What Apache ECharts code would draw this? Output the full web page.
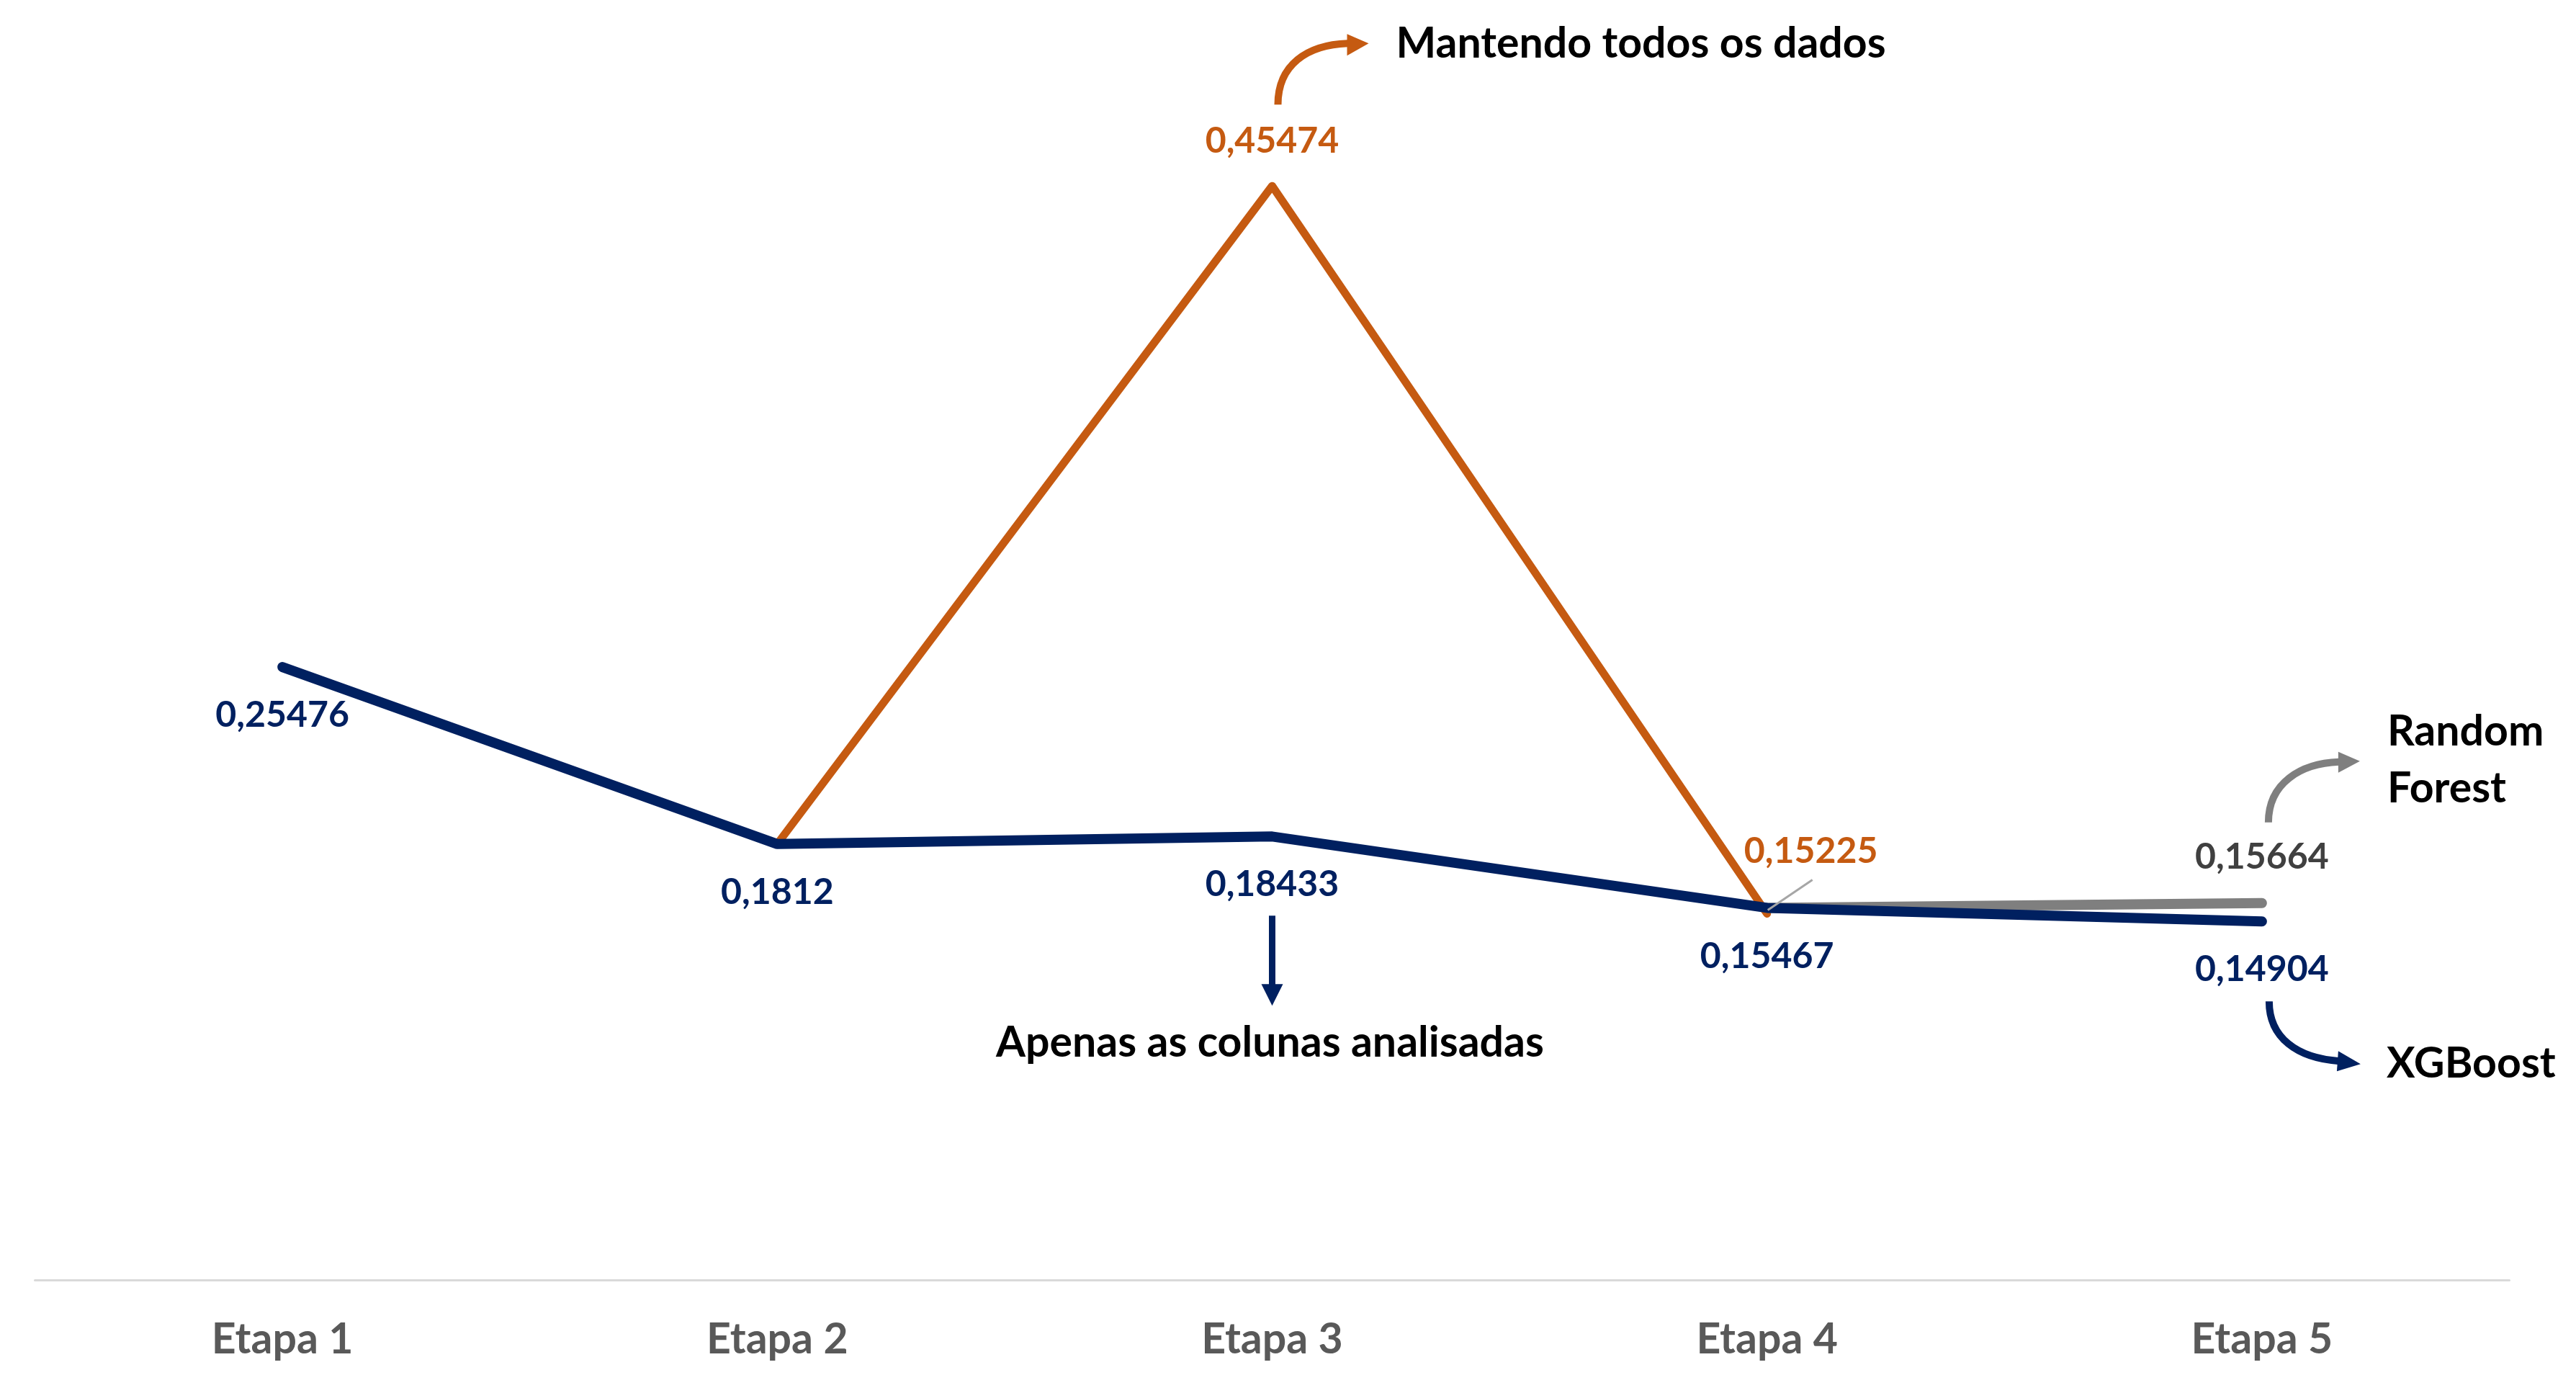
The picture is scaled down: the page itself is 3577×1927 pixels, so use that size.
<!DOCTYPE html>
<html>
<head>
<meta charset="utf-8">
<script src="https://cdn.jsdelivr.net/npm/echarts@6/dist/echarts.min.js"></script>
<style>
  html, body { margin: 0; padding: 0; background: #ffffff; }
  #chart { width: 3577px; height: 1927px; }
</style>
</head>
<body>
<div id="chart"></div>
<script>
// ---- Data ----
const categories = ['Etapa 1', 'Etapa 2', 'Etapa 3', 'Etapa 4', 'Etapa 5'];
const xgboostValues = [0.25476, 0.1812, 0.18433, 0.15467, 0.14904];      // Apenas as colunas analisadas
const allDataValues = [null, 0.1812, 0.45474, 0.15225, null];            // Mantendo todos os dados
const randomForestValues = [null, null, null, 0.15467, 0.15664];         // Random Forest branch
const annotationTexts = {
  top: 'Mantendo todos os dados',
  bottom: 'Apenas as colunas analisadas',
  rf: 'Random\nForest',
  xgb: 'XGBoost'
};

const NAVY = '#002060', ORANGE = '#C55A11', GRAY = '#7F7F7F';
const FONT = 'Lato, "Open Sans", "Noto Sans", sans-serif';

function fmt(v) { return String(v).replace('.', ','); }

const chart = echarts.init(document.getElementById('chart'), null, { renderer: 'canvas' });

const labelBase = { show: true, position: 'inside', fontFamily: FONT, fontWeight: 'bold', fontSize: 50,
  formatter: p => fmt(p.value) };

function mk(values, color, shownIdx, offsets) {
  return values.map((v, i) => {
    if (v === null) return null;
    const show = shownIdx.indexOf(i) >= 0;
    return { value: v, label: show ? { show: true, offset: offsets[i] } : { show: false } };
  });
}

const option = {
  backgroundColor: '#ffffff',
  animation: false,
  grid: { left: 48.5, right: 92.5, top: 107, bottom: 150, containLabel: false },
  xAxis: {
    type: 'category',
    data: categories,
    boundaryGap: true,
    axisLine: { show: true, lineStyle: { color: '#D9D9D9', width: 3 } },
    axisTick: { show: false },
    axisLabel: { color: '#595959', fontFamily: FONT, fontWeight: 'bold', fontSize: 59, margin: 53 },
    splitLine: { show: false }
  },
  yAxis: {
    type: 'value', min: 0, max: 0.5, interval: 0.1,
    show: false, splitLine: { show: false }
  },
  series: [
    {
      name: 'Mantendo todos os dados', type: 'line', z: 2,
      data: mk(allDataValues, ORANGE, [2, 3], { 2: [0, -62], 3: [61, -87] }),
      connectNulls: false,
      symbol: 'circle', symbolSize: 2, showSymbol: true,
      itemStyle: { color: ORANGE },
      lineStyle: { color: ORANGE, width: 11, cap: 'round', join: 'round' },
      label: Object.assign({}, labelBase, { color: ORANGE })
    },
    {
      name: 'Random Forest', type: 'line', z: 3,
      data: mk(randomForestValues, GRAY, [4], { 4: [0, -64] }),
      symbol: 'circle', symbolSize: 2, showSymbol: true,
      itemStyle: { color: GRAY },
      lineStyle: { color: GRAY, width: 14, cap: 'round', join: 'round' },
      label: Object.assign({}, labelBase, { color: '#404040' })
    },
    {
      name: 'XGBoost', type: 'line', z: 4,
      data: mk(xgboostValues, NAVY, [0, 1, 2, 3, 4], { 0: [0, 67], 1: [0, 67], 2: [0, 67], 3: [0, 67], 4: [0, 67] }),
      symbol: 'circle', symbolSize: 2, showSymbol: true,
      itemStyle: { color: NAVY },
      lineStyle: { color: NAVY, width: 14, cap: 'round', join: 'bevel' },
      label: Object.assign({}, labelBase, { color: NAVY })
    }
  ]
};
chart.setOption(option);

// ---- Annotations anchored to data points ----
const px = (i, v) => chart.convertToPixel({ gridIndex: 0 }, [i, v]);
const peak = px(2, allDataValues[2]);
const o4 = px(3, allDataValues[3]);
const n3 = px(2, xgboostValues[2]);
const rf5 = px(4, randomForestValues[4]);
const x5 = px(4, xgboostValues[4]);

function curve(x1, y1, c1x, c1y, c2x, c2y, x2, y2, color, w) {
  return { type: 'bezierCurve', z: 10, silent: true,
    shape: { x1, y1, cpx1: c1x, cpy1: c1y, cpx2: c2x, cpy2: c2y, x2, y2 },
    style: { stroke: color, lineWidth: w, fill: null, lineCap: 'butt' } };
}
function tri(points, color) {
  return { type: 'polygon', z: 10, silent: true, shape: { points }, style: { fill: color } };
}
function txt(x, y, text, align, extra) {
  return Object.assign({ type: 'text', z: 10, silent: true, x, y,
    style: { text, fill: '#000000', font: 'bold 59px ' + FONT, textAlign: align, textVerticalAlign: 'middle', lineHeight: 79 } }, extra || {});
}

const g = [];
// Orange curved arrow -> "Mantendo todos os dados"
{
  const sx = peak[0] + 8, sy = peak[1] - 113;
  g.push(curve(sx, sy, sx, sy - 55, sx + 40, sy - 83, sx + 97, sy - 85, ORANGE, 10));
  g.push(tri([[sx + 96, sy - 98], [sx + 126, sy - 85], [sx + 96, sy - 68]], ORANGE));
  g.push(txt(peak[0] + 172, peak[1] - 197, annotationTexts.top, 'left'));
}
// Navy straight arrow -> "Apenas as colunas analisadas"
{
  const sx = n3[0], sy = n3[1] + 110;
  g.push({ type: 'line', z: 10, silent: true, shape: { x1: sx, y1: sy, x2: sx, y2: sy + 97 },
    style: { stroke: NAVY, lineWidth: 9 } });
  g.push(tri([[sx - 15, sy + 95], [sx + 15, sy + 95], [sx, sy + 125]], NAVY));
  g.push(txt(sx - 3, n3[1] + 287, annotationTexts.bottom, 'center'));
}
// Leader line for 0,15225
g.push({ type: 'line', z: 10, silent: true,
  shape: { x1: o4[0] + 1, y1: o4[1] - 5, x2: o4[0] + 63, y2: o4[1] - 47 },
  style: { stroke: '#A6A6A6', lineWidth: 3 } });
// Gray curved arrow -> "Random Forest"
{
  const sx = rf5[0] + 9, sy = rf5[1] - 112;
  g.push(curve(sx, sy, sx, sy - 55, sx + 45, sy - 82, sx + 98, sy - 84, GRAY, 10));
  g.push(tri([[sx + 97, sy - 98], [sx + 127, sy - 85], [sx + 97, sy - 69]], GRAY));
  g.push(txt(rf5[0] + 174, rf5[1] - 198, annotationTexts.rf, 'left'));
}
// Navy curved arrow -> "XGBoost"
{
  const sx = x5[0] + 10, sy = x5[1] + 111;
  g.push(curve(sx, sy, sx, sy + 50, sx + 38, sy + 79, sx + 98, sy + 83, NAVY, 10));
  g.push(tri([[sx + 96, sy + 69], [sx + 127, sy + 87], [sx + 94, sy + 97]], NAVY));
  g.push(txt(x5[0] + 173, x5[1] + 198, annotationTexts.xgb, 'left'));
}
chart.setOption({ graphic: g });
</script>
</body>
</html>
